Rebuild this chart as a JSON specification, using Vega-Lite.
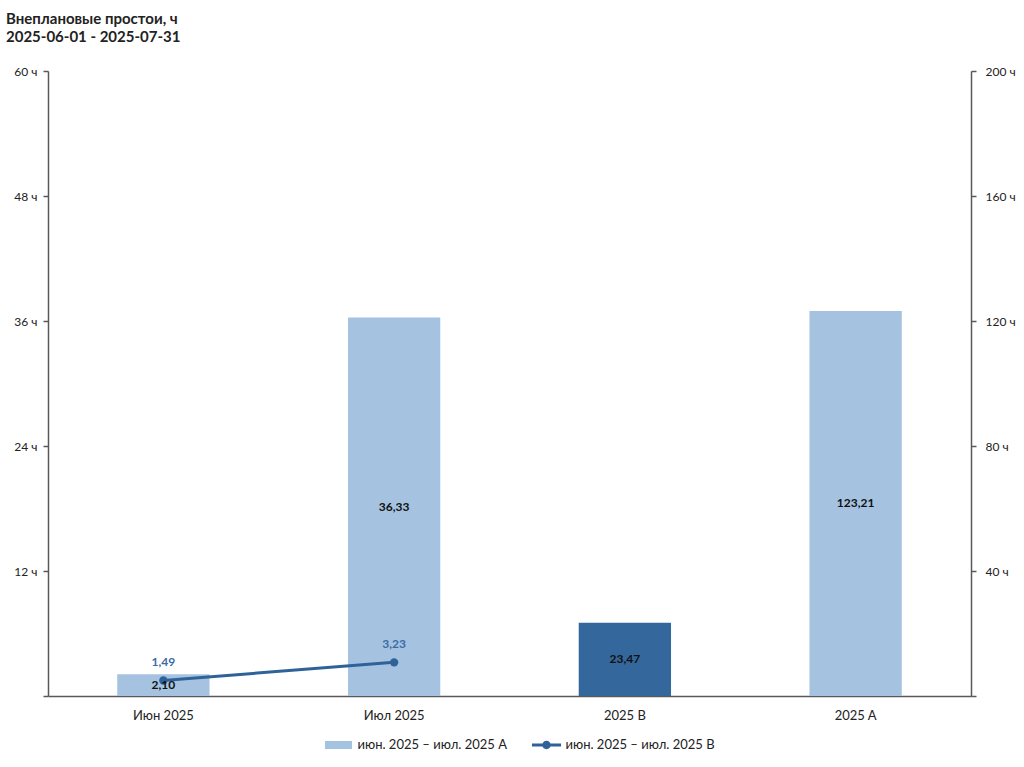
{
  "$schema": "https://vega.github.io/schema/vega-lite/v6.json",
  "width": 923,
  "height": 625,
  "autosize": {"type": "none"},
  "padding": {"left": 48, "top": 71, "right": 53, "bottom": 71},
  "background": "white",
  "config": {
    "locale": {"number": {"decimal": ",", "thousands": " ", "grouping": [3], "currency": ["", ""]}},
    "font": "Lato",
    "view": {"stroke": null},
    "axis": {
      "grid": false,
      "domainColor": "#595959",
      "domainWidth": 1.5,
      "tickColor": "#595959",
      "tickWidth": 1.5,
      "labelColor": "#222222",
      "labelFont": "Lato",
      "labelFontSize": 12,
      "title": null
    },
    "legend": {"labelFont": "Lato"}
  },
  "title": {
    "text": ["Внеплановые простои, ч", "2025-06-01 - 2025-07-31"],
    "anchor": "start",
    "frame": "group",
    "dx": -42,
    "offset": 20,
    "fontSize": 15,
    "lineHeight": 18.5,
    "fontWeight": "bold",
    "color": "#222222",
    "font": "Lato"
  },
  "data": {
    "values": [
      {"cat": "Июн 2025", "series": "июн. 2025 – июл. 2025 A", "kind": "bar", "axis": "left", "value": 2.10},
      {"cat": "Июл 2025", "series": "июн. 2025 – июл. 2025 A", "kind": "bar", "axis": "left", "value": 36.33},
      {"cat": "2025 B", "series": "июн. 2025 – июл. 2025 B", "kind": "bar", "axis": "right", "value": 23.47},
      {"cat": "2025 A", "series": "июн. 2025 – июл. 2025 A", "kind": "bar", "axis": "right", "value": 123.21},
      {"cat": "Июн 2025", "series": "июн. 2025 – июл. 2025 B", "kind": "line", "axis": "left", "value": 1.49},
      {"cat": "Июл 2025", "series": "июн. 2025 – июл. 2025 B", "kind": "line", "axis": "left", "value": 3.23}
    ]
  },
  "encoding": {
    "x": {
      "field": "cat",
      "type": "nominal",
      "sort": ["Июн 2025", "Июл 2025", "2025 B", "2025 A"],
      "scale": {"paddingInner": 0.6, "paddingOuter": 0.3},
      "axis": {"labelAngle": 0, "ticks": false, "labelPadding": 13, "labelFontSize": 13, "title": null}
    }
  },
  "layer": [
    {
      "transform": [{"filter": "datum.kind == 'bar' && datum.axis == 'left'"}],
      "mark": {"type": "bar", "color": "#a5c3e0"},
      "encoding": {
        "y": {
          "field": "value",
          "type": "quantitative",
          "scale": {"domain": [0, 60], "nice": false},
          "axis": {
            "orient": "left",
            "values": [0, 12, 24, 36, 48, 60],
            "labelExpr": "datum.value == 0 ? '' : datum.value + ' ч'",
            "tickSize": 5,
            "labelPadding": 6
          }
        }
      }
    },
    {
      "transform": [{"filter": "datum.kind == 'bar' && datum.axis == 'right'"}],
      "mark": {"type": "bar"},
      "encoding": {
        "y": {
          "field": "value",
          "type": "quantitative",
          "scale": {"domain": [0, 200], "nice": false},
          "axis": {
            "orient": "right",
            "values": [0, 40, 80, 120, 160, 200],
            "labelExpr": "datum.value == 0 ? '' : datum.value + ' ч'",
            "tickSize": 5,
            "labelPadding": 9
          }
        },
        "color": {
          "condition": {"test": "datum.series === 'июн. 2025 – июл. 2025 B'", "value": "#34679b"},
          "value": "#a5c3e0"
        }
      }
    },
    {
      "transform": [{"filter": "datum.kind == 'line'"}],
      "mark": {"type": "line", "color": "#2f6299", "strokeWidth": 3},
      "encoding": {
        "y": {"field": "value", "type": "quantitative", "scale": {"domain": [0, 60], "nice": false}, "axis": null}
      }
    },
    {
      "transform": [{"filter": "datum.kind == 'line'"}],
      "mark": {"type": "point", "filled": true, "size": 70, "color": "#2f6299", "opacity": 1},
      "encoding": {
        "y": {"field": "value", "type": "quantitative", "scale": {"domain": [0, 60], "nice": false}, "axis": null}
      }
    },
    {
      "transform": [{"filter": "datum.kind == 'line'"}],
      "mark": {"type": "text", "dy": -18, "fontSize": 12, "fontWeight": "bold", "color": "#3b6ba5", "baseline": "middle"},
      "encoding": {
        "y": {"field": "value", "type": "quantitative", "scale": {"domain": [0, 60], "nice": false}, "axis": null},
        "text": {"field": "value", "type": "quantitative", "format": ".2f"}
      }
    },
    {
      "transform": [{"filter": "datum.kind == 'bar' && datum.axis == 'left'"}],
      "mark": {"type": "text", "fontSize": 12, "fontWeight": "bold", "color": "#111111", "baseline": "middle"},
      "encoding": {
        "y": {"field": "value", "type": "quantitative", "scale": {"domain": [0, 120], "nice": false}, "axis": null},
        "text": {"field": "value", "type": "quantitative", "format": ".2f"}
      }
    },
    {
      "transform": [{"filter": "datum.kind == 'bar' && datum.axis == 'right'"}],
      "mark": {"type": "text", "fontSize": 12, "fontWeight": "bold", "color": "#111111", "baseline": "middle"},
      "encoding": {
        "y": {"field": "value", "type": "quantitative", "scale": {"domain": [0, 400], "nice": false}, "axis": null},
        "text": {"field": "value", "type": "quantitative", "format": ".2f"}
      }
    },
    {
      "transform": [{"filter": "datum.kind == 'line'"}],
      "mark": {"type": "point", "filled": true, "opacity": 0},
      "encoding": {
        "y": {"field": "value", "type": "quantitative", "scale": {"domain": [0, 60], "nice": false}, "axis": null},
        "color": {
          "field": "series",
          "type": "nominal",
          "scale": {"domain": ["июн. 2025 – июл. 2025 A", "июн. 2025 – июл. 2025 B"], "range": ["#a5c3e0", "#2f6299"]},
          "legend": {
            "orient": "none",
            "legendX": 275.5,
            "legendY": 659,
            "padding": 0,
            "direction": "horizontal",
            "title": null,
            "symbolSize": 900,
            "symbolOpacity": 1,
            "symbolStrokeWidth": 0,
            "labelFontSize": 13,
            "labelColor": "#222222",
            "labelOffset": 4,
            "columnPadding": 24
          }
        },
        "shape": {
          "field": "series",
          "type": "nominal",
          "scale": {
            "domain": ["июн. 2025 – июл. 2025 A", "июн. 2025 – июл. 2025 B"],
            "range": [
              "M-0.9,-0.27H0.9V0.27H-0.9Z",
              "M-0.97,-0.1H-0.2V0.1H-0.97Z M0.2,-0.1H0.97V0.1H0.2Z M-0.28,0A0.28,0.28 0 1,1 0.28,0A0.28,0.28 0 1,1 -0.28,0Z"
            ]
          },
          "legend": {
            "orient": "none",
            "legendX": 275.5,
            "legendY": 659,
            "padding": 0,
            "direction": "horizontal",
            "title": null,
            "symbolSize": 900,
            "symbolOpacity": 1,
            "symbolStrokeWidth": 0,
            "labelFontSize": 13,
            "labelColor": "#222222",
            "labelOffset": 4,
            "columnPadding": 24
          }
        }
      }
    }
  ],
  "resolve": {"scale": {"y": "independent"}}
}
